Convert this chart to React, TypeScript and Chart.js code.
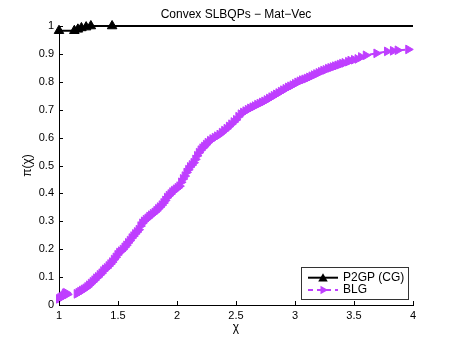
import React, { useEffect, useRef } from "react";
import { Chart, registerables } from "chart.js";

Chart.register(...registerables);

const TITLE = "Convex SLBQPs − Mat−Vec";
const X_LABEL = "χ";
const Y_LABEL = "π(χ)";
const SERIES_NAMES = ["P2GP (CG)", "BLG"];
const SERIES_COLORS = ["#000000", "#bf3fff"];
const X_TICKS = [1, 1.5, 2, 2.5, 3, 3.5, 4];
const Y_TICKS = [0, 0.1, 0.2, 0.3, 0.4, 0.5, 0.6, 0.7, 0.8, 0.9, 1];

const p2gpX = [1.0, 1.13, 1.16, 1.19, 1.23, 1.27, 1.45, 4.0];
const p2gpY = [0.983, 0.983, 0.988, 0.993, 0.996, 1.0, 1.0, 1.0];

const blgX = [
  1.0, 1.01, 1.02, 1.03, 1.04, 1.05, 1.06, 1.07,
  1.15, 1.165, 1.18, 1.195, 1.21, 1.225, 1.24, 1.255, 1.27, 1.285, 1.3, 1.315,
  1.33, 1.345, 1.36, 1.375, 1.39, 1.405, 1.42, 1.435, 1.45, 1.465, 1.48, 1.495,
  1.51, 1.525, 1.54, 1.555, 1.57, 1.585, 1.6, 1.615, 1.63, 1.645, 1.66, 1.675,
  1.69, 1.705, 1.72, 1.735, 1.75, 1.765, 1.78, 1.795, 1.81, 1.825, 1.84, 1.855,
  1.87, 1.885, 1.9, 1.915, 1.93, 1.945, 1.96, 1.975, 1.99, 2.005, 2.02, 2.035,
  2.05, 2.065, 2.08, 2.095, 2.11, 2.125, 2.14, 2.155, 2.17, 2.185, 2.2, 2.215,
  2.23, 2.245, 2.26, 2.28, 2.3, 2.32, 2.34, 2.36, 2.38, 2.4, 2.42, 2.44, 2.46,
  2.48, 2.5, 2.52, 2.54, 2.56, 2.58, 2.6, 2.62, 2.64, 2.66, 2.68, 2.7, 2.72,
  2.74, 2.76, 2.78, 2.8, 2.82, 2.84, 2.86, 2.88, 2.9, 2.92, 2.94, 2.96, 2.98,
  3.0, 3.02, 3.04, 3.06, 3.08, 3.1, 3.12, 3.14, 3.16, 3.18, 3.2, 3.22, 3.24,
  3.26, 3.28, 3.3, 3.32, 3.34, 3.36, 3.38, 3.4, 3.42, 3.45, 3.47, 3.5, 3.53,
  3.56, 3.6, 3.69, 3.78, 3.83, 3.87, 3.96,
];
const blgY = [
  0.022, 0.025, 0.028, 0.031, 0.035, 0.042, 0.044, 0.038,
  0.04, 0.044, 0.048, 0.052, 0.056, 0.06, 0.065, 0.071, 0.077, 0.083, 0.089,
  0.096, 0.101, 0.108, 0.114, 0.122, 0.128, 0.133, 0.14, 0.147, 0.154, 0.163,
  0.171, 0.18, 0.188, 0.193, 0.199, 0.207, 0.214, 0.223, 0.231, 0.24, 0.247,
  0.255, 0.262, 0.27, 0.283, 0.293, 0.3, 0.306, 0.311, 0.317, 0.322, 0.327,
  0.332, 0.338, 0.345, 0.351, 0.358, 0.366, 0.375, 0.385, 0.392, 0.398, 0.405,
  0.41, 0.415, 0.42, 0.426, 0.44, 0.452, 0.462, 0.475, 0.485, 0.495, 0.502,
  0.51, 0.522, 0.535, 0.546, 0.555, 0.562, 0.568, 0.575, 0.582, 0.589, 0.595,
  0.6, 0.605, 0.611, 0.618, 0.625, 0.632, 0.64, 0.648, 0.656, 0.664, 0.675,
  0.684, 0.69, 0.695, 0.7, 0.705, 0.709, 0.713, 0.718, 0.722, 0.726, 0.73,
  0.735, 0.74, 0.745, 0.75, 0.755, 0.76, 0.765, 0.77, 0.775, 0.78, 0.784,
  0.788, 0.793, 0.798, 0.802, 0.806, 0.809, 0.812, 0.816, 0.82, 0.824, 0.828,
  0.832, 0.836, 0.84, 0.843, 0.847, 0.85, 0.853, 0.856, 0.859, 0.862, 0.865,
  0.868, 0.872, 0.876, 0.879, 0.882, 0.889, 0.895, 0.902, 0.909, 0.911, 0.913,
  0.916,
];

const FONT = '"Liberation Sans", Arial, Helvetica, sans-serif';

function tri(ctx: CanvasRenderingContext2D, x: number, y: number, r: number, rotDeg: number) {
  let rad = (rotDeg * Math.PI) / 180;
  ctx.beginPath();
  ctx.moveTo(x + Math.sin(rad) * r, y - Math.cos(rad) * r);
  rad += (2 * Math.PI) / 3;
  ctx.lineTo(x + Math.sin(rad) * r, y - Math.cos(rad) * r);
  rad += (2 * Math.PI) / 3;
  ctx.lineTo(x + Math.sin(rad) * r, y - Math.cos(rad) * r);
  ctx.closePath();
  ctx.fill();
}

const decorPlugin = {
  id: "decor",
  afterDraw(chart: any) {
    const { ctx, chartArea, scales } = chart;
    const xs = scales.x;
    const ys = scales.y;
    ctx.save();
    // inward ticks
    ctx.strokeStyle = "#000";
    ctx.lineWidth = 1;
    ctx.beginPath();
    X_TICKS.forEach((v) => {
      const px = Math.round(xs.getPixelForValue(v)) + 0.5;
      ctx.moveTo(px, chartArea.bottom);
      ctx.lineTo(px, chartArea.bottom - 4);
    });
    Y_TICKS.forEach((v) => {
      const py = Math.round(ys.getPixelForValue(v)) + 0.5;
      ctx.moveTo(chartArea.left, py);
      ctx.lineTo(chartArea.left + 4, py);
    });
    ctx.stroke();

    // title
    const cx = (chartArea.left + chartArea.right) / 2;
    ctx.fillStyle = "#000";
    ctx.font = `12px ${FONT}`;
    ctx.textAlign = "center";
    ctx.textBaseline = "alphabetic";
    ctx.fillText(TITLE, cx, 18);
    // x label
    ctx.fillText(X_LABEL, cx, 331);
    // y label
    ctx.save();
    ctx.translate(31, (chartArea.top + chartArea.bottom) / 2);
    ctx.rotate(-Math.PI / 2);
    ctx.fillText(Y_LABEL, 0, 0);
    ctx.restore();

    // legend
    const bx = 301.5, by = 267.5, bw = 107, bh = 32;
    ctx.fillStyle = "#fff";
    ctx.fillRect(bx, by, bw, bh);
    ctx.strokeStyle = "#333";
    ctx.lineWidth = 1;
    ctx.strokeRect(bx, by, bw, bh);
    const rows = [277.7, 290];
    const rots = [0, 90];
    const radii = [5.5, 5];
    const dashes = [[], [5, 4]];
    SERIES_NAMES.forEach((name, i) => {
      const y = rows[i];
      ctx.strokeStyle = SERIES_COLORS[i];
      ctx.lineWidth = 2;
      ctx.setLineDash(dashes[i]);
      ctx.beginPath();
      ctx.moveTo(308, y);
      ctx.lineTo(338, y);
      ctx.stroke();
      ctx.setLineDash([]);
      ctx.fillStyle = SERIES_COLORS[i];
      tri(ctx, 323, y + (i === 0 ? 1 : 0), radii[i], rots[i]);
      ctx.fillStyle = "#000";
      ctx.font = `12px ${FONT}`;
      ctx.textAlign = "left";
      ctx.textBaseline = "middle";
      ctx.fillText(name, 343, y);
    });
    ctx.restore();
  },
};

export default function App() {
  const ref = useRef<HTMLCanvasElement | null>(null);
  useEffect(() => {
    if (!ref.current) return;
    const p2gpData = p2gpX.map((x, i) => ({ x, y: p2gpY[i] }));
    const blgData = blgX.map((x, i) => ({ x, y: blgY[i] }));
    const chart = new Chart(ref.current, {
      type: "scatter",
      data: {
        datasets: [
          {
            label: SERIES_NAMES[1],
            data: blgData,
            showLine: true,
            borderColor: SERIES_COLORS[1],
            backgroundColor: SERIES_COLORS[1],
            borderWidth: 2,
            borderDash: [6, 4],
            pointStyle: "triangle",
            rotation: 90,
            pointRadius: 5,
            pointBorderWidth: 1,
            pointBorderColor: SERIES_COLORS[1],
            pointBackgroundColor: SERIES_COLORS[1],
            tension: 0,
            clip: false,
          } as any,
          {
            label: SERIES_NAMES[0],
            data: p2gpData,
            showLine: true,
            borderColor: SERIES_COLORS[0],
            backgroundColor: SERIES_COLORS[0],
            borderWidth: 2,
            pointStyle: "triangle",
            rotation: 0,
            pointRadius: p2gpX.map((_, i) => (i === p2gpX.length - 1 ? 0 : 5.5)),
            pointBorderWidth: 1,
            pointBorderColor: SERIES_COLORS[0],
            pointBackgroundColor: SERIES_COLORS[0],
            tension: 0,
            clip: false,
          } as any,
        ],
      },
      options: {
        animation: false,
        responsive: false,
        devicePixelRatio: 1,
        layout: { padding: { top: 26, right: 44, left: 0, bottom: 0 } },
        plugins: {
          legend: { display: false },
          title: { display: false },
          tooltip: { enabled: false },
        },
        scales: {
          x: {
            type: "linear",
            min: 1,
            max: 4,
            afterBuildTicks: (s: any) => {
              s.ticks = X_TICKS.map((v) => ({ value: v }));
            },
            afterFit: (s: any) => {
              s.height = 39;
            },
            grid: { display: false, drawTicks: false },
            border: { display: true, color: "#000", width: 1 },
            ticks: {
              autoSkip: false,
              maxRotation: 0,
              padding: 4,
              color: "#000",
              font: { family: FONT, size: 11 },
              callback: (v: any) => String(+Number(v).toFixed(1)),
            },
          },
          y: {
            type: "linear",
            min: 0,
            max: 1,
            afterBuildTicks: (s: any) => {
              s.ticks = Y_TICKS.map((v) => ({ value: v }));
            },
            afterFit: (s: any) => {
              s.width = 59;
            },
            grid: { display: false, drawTicks: false },
            border: { display: true, color: "#000", width: 1 },
            ticks: {
              autoSkip: false,
              padding: 5,
              color: "#000",
              font: { family: FONT, size: 11 },
              callback: (v: any) => String(+Number(v).toFixed(1)),
            },
          },
        },
      },
      plugins: [decorPlugin],
    });
    return () => chart.destroy();
  }, []);
  return (
    <div style={{ position: "absolute", left: 0, top: 0, width: 457, height: 344, background: "#fff" }}>
      <canvas ref={ref} width={457} height={344} style={{ width: 457, height: 344 }} />
    </div>
  );
}
